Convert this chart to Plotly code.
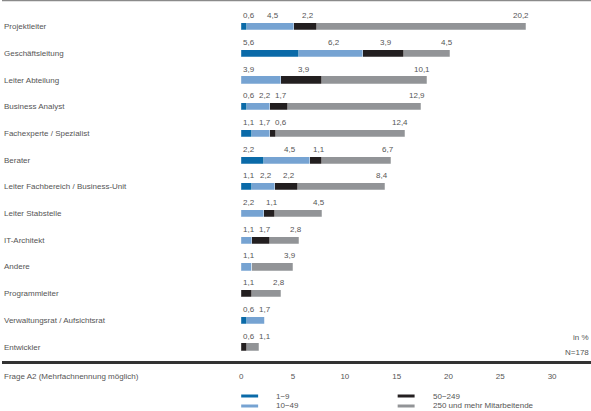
import plotly.graph_objects as go

categories = ["Projektleiter", "Geschäftsleitung", "Leiter Abteilung", "Business Analyst",
              "Fachexperte / Spezialist", "Berater", "Leiter Fachbereich / Business-Unit",
              "Leiter Stabstelle", "IT-Architekt", "Andere", "Programmleiter",
              "Verwaltungsrat / Aufsichtsrat", "Entwickler"]
series_names = ["1−9", "10−49", "50−249", "250 und mehr Mitarbeitende"]
v_1_9 =     [0.6, 5.6, 0.0, 0.6, 1.1, 2.2, 1.1, 0.0, 0.0, 0.0, 0.0, 0.6, 0.0]
v_10_49 =   [4.5, 6.2, 3.9, 2.2, 1.7, 4.5, 2.2, 2.2, 1.1, 1.1, 0.0, 1.7, 0.0]
v_50_249 =  [2.2, 3.9, 3.9, 1.7, 0.6, 1.1, 2.2, 1.1, 1.7, 0.0, 1.1, 0.0, 0.6]
v_250 =     [20.2, 4.5, 10.1, 12.9, 12.4, 6.7, 8.4, 4.5, 2.8, 3.9, 2.8, 0.0, 1.1]
tick_values = [0, 5, 10, 15, 20, 25, 30]
colors = ["#0a6aa8", "#76a3d2", "#231f20", "#929497"]

W, H = 591, 411
LEFT = 240
XMAX = 33.75
PX = (W - LEFT) / XMAX  # px per unit
PLOT_BOTTOM = 362
FONT = "Liberation Sans, Arial, sans-serif"
TXT = "#555555"
FS = 8


def py(Y):
    # pixel-from-top -> paper y (paper spans plot area, 0..PLOT_BOTTOM px)
    return (PLOT_BOTTOM - Y) / PLOT_BOTTOM


def font():
    return dict(size=FS, color=TXT, family=FONT)


series = [v_1_9, v_10_49, v_50_249, v_250]
y_idx = list(range(len(categories)))

fig = go.Figure()
for name, vals, col in zip(series_names, series, colors):
    fig.add_trace(go.Bar(
        y=y_idx, x=vals, orientation="h", name=name,
        marker=dict(color=col, line=dict(width=0.5, color="rgba(255,255,255,0.5)")),
        width=0.27, showlegend=False, hoverinfo="x+name"))

ann = []
for i, c in enumerate(categories):
    ann.append(dict(x=0, xref="paper", y=i, yref="y", text=c, showarrow=False,
                    xanchor="left", yanchor="middle", font=font()))


def fmt(v):
    return f"{v:.1f}".replace(".", ",")

GAP = 5
for i in range(len(categories)):
    segs = []
    start = 0.0
    for vals in series:
        v = vals[i]
        if v > 0:
            segs.append((start, v))
        start += v
    total = start
    prev_right = -1e9
    n = len(segs)
    for k, (s, v) in enumerate(segs):
        t = fmt(v)
        w = 3.7 * len(t)
        if k == 0:
            left = s * PX
        elif k == n - 1:
            left = total * PX - w
        else:
            left = (s + v / 2) * PX - w / 2
        if k > 0 and left < prev_right + GAP:
            left = prev_right + GAP
        prev_right = left + w
        ann.append(dict(x=left / PX, xref="x", y=i, yref="y", yshift=11, text=t,
                        showarrow=False, xanchor="left", yanchor="middle", font=font()))

ann.append(dict(x=1, xref="paper", y=py(337), yref="paper", text="in %", showarrow=False,
                xanchor="right", yanchor="middle", font=font()))
ann.append(dict(x=1, xref="paper", y=py(352), yref="paper", text="N=178", showarrow=False,
                xanchor="right", yanchor="middle", font=font()))
ann.append(dict(x=0, xref="paper", y=py(376), yref="paper", text="Frage A2 (Mehrfachnennung möglich)",
                showarrow=False, xanchor="left", yanchor="middle", font=font()))

shapes = []
leg_pos = [(240, 396), (240, 406), (397, 396), (397, 406)]
for (lx, ly), name, col in zip(leg_pos, series_names, colors):
    shapes.append(dict(type="line", xref="paper", yref="paper",
                       x0=lx / W, x1=(lx + 17) / W, y0=py(ly), y1=py(ly),
                       line=dict(color=col, width=3)))
    ann.append(dict(x=(lx + 33) / W, xref="paper", y=py(ly), yref="paper", text=name,
                    showarrow=False, xanchor="left", yanchor="middle", font=font()))

shapes.append(dict(type="line", xref="paper", yref="paper", x0=0, x1=1,
                   y0=py(362.5), y1=py(362.5), line=dict(color="#333333", width=3)))
shapes.append(dict(type="line", xref="paper", yref="paper", x0=0, x1=1,
                   y0=py(0.5), y1=py(0.5), line=dict(color="#8a8a8a", width=1.5)))

row_px = 26.7
first_c = 26.6
y_top = -first_c / row_px
y_bot = y_top + PLOT_BOTTOM / row_px

fig.update_layout(
    width=W, height=H, barmode="stack", bargap=0,
    margin=dict(l=0, r=0, t=0, b=H - PLOT_BOTTOM, pad=0),
    paper_bgcolor="white", plot_bgcolor="white",
    xaxis=dict(domain=[LEFT / W, 1], range=[0, XMAX], tickvals=tick_values,
               ticktext=[str(t) for t in tick_values], showgrid=False, zeroline=False,
               showline=False, ticks="outside", ticklen=6, tickcolor="rgba(0,0,0,0)",
               tickfont=font(), fixedrange=True),
    yaxis=dict(range=[y_bot, y_top], showticklabels=False, showgrid=False, zeroline=False,
               showline=False, ticks="", fixedrange=True),
    annotations=ann, shapes=shapes, showlegend=False,
)

fig.write_html("out.html", config={"displayModeBar": False},
               post_script="document.body.style.margin='0';document.body.style.overflow='hidden';")
